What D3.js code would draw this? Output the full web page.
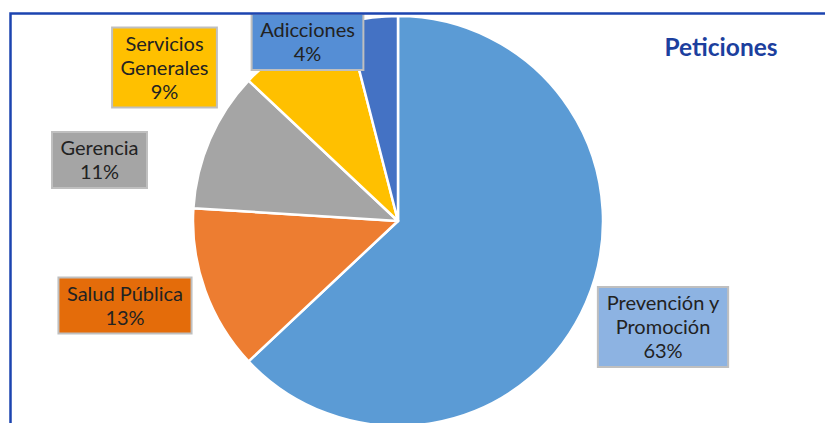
<!DOCTYPE html>
<html>
<head>
<meta charset="utf-8">
<script src="https://cdn.jsdelivr.net/npm/d3@7"></script>
<style>
  body { margin: 0; background: #fff; }
  svg { display: block; font-family: Lato, "Open Sans", sans-serif; }
</style>
</head>
<body>
<div id="chart"></div>
<script>
// data
var categories = ["Prevención y Promoción", "Salud Pública", "Gerencia", "Servicios Generales", "Adicciones"];
var values = [63, 13, 11, 9, 4];
var labelLines = [["Prevención y", "Promoción"], ["Salud Pública"], ["Gerencia"], ["Servicios", "Generales"], ["Adicciones"]];

// styling / layout
var sliceColors = ["#5b9bd5", "#ed7d31", "#a5a5a5", "#ffc000", "#4472c4"];
var boxColors = ["#8db3e2", "#e46c0a", "#a5a5a5", "#ffc000", "#558ed5"];
var labelOffsets = [[265, 106], [-273, 84.5], [-298.5, -61], [-233.5, -153.5], [-90.5, -179]];

var width = 825, height = 423;
var cx = 398, cy = 221, radius = 205;

var svg = d3.select("#chart").append("svg")
            .attr("width", width)
            .attr("height", height);

var pie = d3.pie().sort(null).value(function(d) { return d; });
var arc = d3.arc().innerRadius(0).outerRadius(radius);

var g = svg.append("g")
           .attr("transform", "translate(" + cx + "," + cy + ")");

g.selectAll("path.slice")
 .data(pie(values))
 .enter()
 .append("path")
 .attr("class", "slice")
 .attr("d", arc)
 .attr("fill", function(d, i) { return sliceColors[i]; })
 .attr("stroke", "#fff")
 .attr("stroke-width", 2.5)
 .attr("stroke-linejoin", "round");

// data labels (boxes sized from text)
var fontSize = 20, lineH = 24;
var labels = g.selectAll("g.lbl")
              .data(categories)
              .enter()
              .append("g")
              .attr("class", "lbl")
              .attr("transform", function(d, i) { return "translate(" + labelOffsets[i][0] + "," + labelOffsets[i][1] + ")"; });

labels.each(function(d, i) {
  var lg = d3.select(this);
  var lines = labelLines[i].concat([values[i] + "%"]);
  var box = lg.append("rect");
  var txt = lg.append("text")
              .attr("text-anchor", "middle")
              .style("font-size", fontSize + "px")
              .attr("fill", "#222");
  var top = -lines.length * lineH / 2;
  lines.forEach(function(l, k) {
    txt.append("tspan")
       .attr("x", 0)
       .attr("y", top + k * lineH + lineH / 2)
       .attr("dy", "0.35em")
       .text(l);
  });
  var w = txt.node().getBBox().width + 17;
  var h = lines.length * lineH + 8;
  box.attr("x", -w / 2).attr("y", -h / 2)
     .attr("width", w).attr("height", h)
     .attr("fill", boxColors[i])
     .attr("stroke", "#bfbfbf")
     .attr("stroke-width", 2);
});

// title
svg.append("text")
   .attr("x", 721)
   .attr("y", 47)
   .attr("dy", "0.35em")
   .attr("text-anchor", "middle")
   .style("font-size", "24.5px")
   .style("font-weight", "bold")
   .attr("fill", "#1c3f9e")
   .text("Peticiones");

// frame (top and left edges visible)
svg.append("path")
   .attr("d", "M10.5," + height + "V13.5H" + width)
   .attr("fill", "none")
   .attr("stroke", "#1c44b0")
   .attr("stroke-width", 2.5);
</script>
</body>
</html>
